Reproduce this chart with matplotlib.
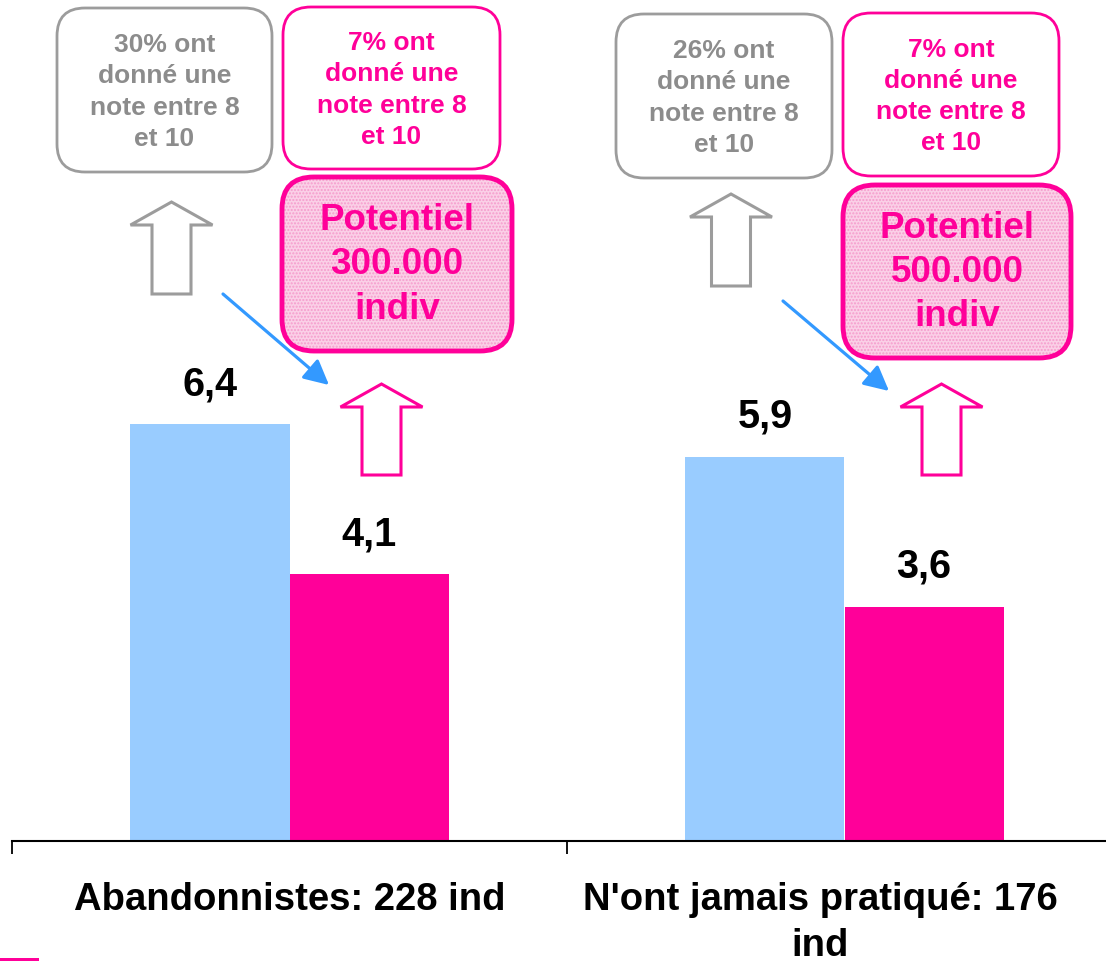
import matplotlib.pyplot as plt
import numpy as np
from matplotlib.patches import FancyBboxPatch, FancyArrowPatch, Polygon, Rectangle

plt.rcParams['font.family'] = ['Liberation Sans', 'DejaVu Sans']
plt.rcParams['font.weight'] = 'bold'

# Data
categories = ["Abandonnistes: 228 ind", "N'ont jamais pratiqué: 176\nind"]
score_all = [6.4, 5.9]        # blue bars
score_target = [4.1, 3.6]     # pink bars
value_labels_all = ["6,4", "5,9"]
value_labels_target = ["4,1", "3,6"]
share_all = ["30%", "26%"]
share_target = ["7%", "7%"]
potential = ["300.000", "500.000"]

BLUE = '#99ccff'
PINK = '#ff0099'
GREY_TXT = '#8c8c8c'
GREY_EDGE = '#9c9c9c'
ARROW_BLUE = '#3399ff'

W, H = 1106, 962
fig = plt.figure(figsize=(W / 100, H / 100), dpi=100)

# main axes: baseline at y=842 px, x from 12 px, 555 px per category
ax = fig.add_axes([12 / W, (H - 842) / H, (W - 12) / W, 842 / H])
x = np.arange(len(categories)) + 0.5
bw = 0.2865
ax.bar(x - bw / 2, score_all, width=bw, color=BLUE)
ax.bar(x + bw / 2, score_target, width=bw, color=PINK)

for xi, v, lab in zip(x - bw / 2, score_all, value_labels_all):
    ax.annotate(lab, (xi, v), xytext=(0, 29.5), textcoords='offset points',
                ha='center', va='center', fontsize=28.5, fontweight='bold')
for xi, v, lab in zip(x + bw / 2, score_target, value_labels_target):
    ax.annotate(lab, (xi, v), xytext=(0, 29.5), textcoords='offset points',
                ha='center', va='center', fontsize=28.5, fontweight='bold')

for s in ['left', 'right', 'top']:
    ax.spines[s].set_visible(False)
ax.spines['bottom'].set_linewidth(1.5)
ax.set_yticks([])
ax.set_xticks([0, 1, 2])
ax.tick_params(axis='x', direction='out', length=9.5, width=1.3, labelbottom=False)
ax.set_xlim(0, (W - 12) / 555)
ax.set_ylim(0, 842 / 65.1)

# category labels (second one sits a bit left of its group centre)
label_shift = [0.0, -0.044]
for xi, cat, dx in zip(x, categories, label_shift):
    ax.text(xi + dx, -0.62, cat, ha='center', va='top', fontsize=27.5,
            fontweight='bold', linespacing=1.36)

# overlay in pixel coordinates (y down) for boxes and arrows
ov = fig.add_axes([0, 0, 1, 1])
ov.set_xlim(0, W)
ov.set_ylim(H, 0)
ov.axis('off')


def rbox(x0, y0, x1, y1, edge, lw, face='none', r=28):
    p = FancyBboxPatch((x0, y0), x1 - x0, y1 - y0,
                       boxstyle=f"round,pad=0,rounding_size={r}",
                       facecolor=face, edgecolor=edge, linewidth=lw)
    ov.add_patch(p)
    return p


def hollow_arrow(cx, top, bottom, color):
    hh, hw, sw = 23, 41, 19.5
    pts = [(cx, top), (cx + hw, top + hh), (cx + sw, top + hh), (cx + sw, bottom),
           (cx - sw, bottom), (cx - sw, top + hh), (cx - hw, top + hh)]
    ov.add_patch(Polygon(pts, closed=True, facecolor='white', edgecolor=color,
                         linewidth=2.2, joinstyle='miter'))


grey_boxes = [(57, 9, 272, 173), (616, 15, 832, 179)]
pink_boxes = [(283, 8, 500, 170), (843, 14, 1059, 177)]
pot_boxes = [(282, 178, 512, 352), (843, 186, 1071, 359)]
grey_arrows = [(171.5, 203, 295), (731, 195, 287)]
pink_arrows = [(381.5, 385, 476), (941.5, 385, 476)]
blue_arrows = [((223, 295), (329, 386)), ((783, 302), (889, 392))]

for i in range(len(categories)):
    x0, y0, x1, y1 = grey_boxes[i]
    rbox(x0, y0, x1, y1, GREY_EDGE, 2.0)
    ov.text((x0 + x1) / 2, (y0 + y1) / 2 + 1,
            f"{share_all[i]} ont\ndonné une\nnote entre 8\net 10",
            ha='center', va='center', color=GREY_TXT, fontsize=19,
            fontweight='bold', linespacing=1.37)

    x0, y0, x1, y1 = pink_boxes[i]
    rbox(x0, y0, x1, y1, PINK, 2.0)
    ov.text((x0 + x1) / 2, (y0 + y1) / 2 + 1,
            f"{share_target[i]} ont\ndonné une\nnote entre 8\net 10",
            ha='center', va='center', color=PINK, fontsize=19,
            fontweight='bold', linespacing=1.37)

    x0, y0, x1, y1 = pot_boxes[i]
    rbox(x0, y0, x1, y1, 'none', 0, face='#fbd0e7', r=32)
    hatch = rbox(x0, y0, x1, y1, '#f59ccc', 0, r=32)
    hatch.set_hatch('.....')
    rbox(x0, y0, x1, y1, PINK, 3.5, r=32)
    ov.text((x0 + x1) / 2, (y0 + y1) / 2, f"Potentiel\n{potential[i]}\nindiv",
            ha='center', va='center', color=PINK, fontsize=26.5,
            fontweight='bold', linespacing=1.35)

    cx, top, bottom = grey_arrows[i]
    hollow_arrow(cx, top, bottom, GREY_EDGE)
    cx, top, bottom = pink_arrows[i]
    hollow_arrow(cx, top, bottom, PINK)

    start, end = blue_arrows[i]
    ov.add_patch(FancyArrowPatch(start, end,
                                 arrowstyle='-|>,head_length=0.75,head_width=0.38',
                                 mutation_scale=20, color=ARROW_BLUE, linewidth=2.3,
                                 shrinkA=0, shrinkB=0))

# small pink mark at the bottom-left corner
ov.add_patch(Rectangle((0, 959), 39, 3, facecolor=PINK, edgecolor='none'))

fig.savefig('out.png', dpi=100)
